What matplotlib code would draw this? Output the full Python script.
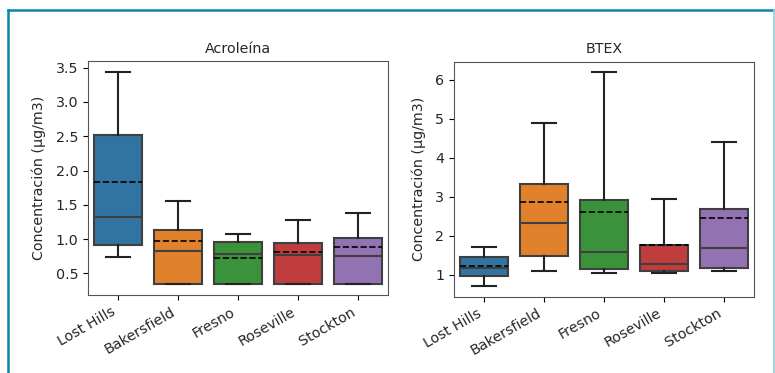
import matplotlib.pyplot as plt
from matplotlib.lines import Line2D

sites = ['Lost Hills', 'Bakersfield', 'Fresno', 'Roseville', 'Stockton']
colors = ['#3274a1', '#e1812c', '#3a923a', '#c03d3e', '#9372b2']

# Acroleína: lower whisker, Q1, median, Q3, upper whisker, mean
acro_low = [0.74, 0.34, 0.34, 0.34, 0.34]
acro_q1 = [0.92, 0.34, 0.34, 0.34, 0.34]
acro_med = [1.33, 0.82, 0.78, 0.77, 0.76]
acro_q3 = [2.52, 1.13, 0.96, 0.95, 1.01]
acro_high = [3.44, 1.56, 1.08, 1.28, 1.38]
acro_mean = [1.83, 0.98, 0.72, 0.81, 0.89]

# BTEX
btex_low = [0.71, 1.08, 1.04, 1.04, 1.08]
btex_q1 = [0.96, 1.48, 1.13, 1.10, 1.16]
btex_med = [1.18, 2.32, 1.59, 1.28, 1.67]
btex_q3 = [1.45, 3.33, 2.92, 1.75, 2.68]
btex_high = [1.70, 4.89, 6.19, 2.95, 4.40]
btex_mean = [1.22, 2.86, 2.61, 1.77, 2.44]

edge = '#3f3f3f'


def make_stats(low, q1, med, q3, high, mean):
    return [dict(whislo=a, q1=b, med=c, q3=d, whishi=e, mean=f, fliers=[], label=s)
            for a, b, c, d, e, f, s in zip(low, q1, med, q3, high, mean, sites)]


def draw(ax, stats, title, pad):
    bp = ax.bxp(stats, widths=0.8, patch_artist=True, showmeans=True, meanline=True,
                showfliers=False,
                boxprops=dict(edgecolor=edge, linewidth=1.5),
                medianprops=dict(color=edge, linewidth=1.5),
                whiskerprops=dict(color='#222222', linewidth=1.5),
                capprops=dict(color='#222222', linewidth=1.5),
                meanprops=dict(color='black', linestyle='--', linewidth=1.2))
    for patch, c in zip(bp['boxes'], colors):
        patch.set_facecolor(c)
    ax.set_title(title, fontsize=10.3, color='#262626')
    ax.set_ylabel('Concentración (µg/m3)', fontsize=10.3, color='#262626', labelpad=pad)
    ax.set_xticks(range(1, len(sites) + 1))
    ax.set_xticklabels(sites, rotation=30, ha='right', fontsize=10.3, color='#262626')
    ax.tick_params(axis='y', labelsize=10.3, labelcolor='#262626')
    for sp in ax.spines.values():
        sp.set_color('#555555')


fig = plt.figure(figsize=(7.75, 3.73), dpi=100)
ax1 = fig.add_axes([0.1135, 0.209, 0.387, 0.627])
ax2 = fig.add_axes([0.5858, 0.205, 0.387, 0.630])

draw(ax1, make_stats(acro_low, acro_q1, acro_med, acro_q3, acro_high, acro_mean), 'Acroleína', 7)
draw(ax2, make_stats(btex_low, btex_q1, btex_med, btex_q3, btex_high, btex_mean), 'BTEX', 6.5)
ax1.set_yticks([0.5, 1.0, 1.5, 2.0, 2.5, 3.0, 3.5])

# teal frame around the figure
W, H = 775, 373
fig.add_artist(Line2D([8 / W, 8 / W], [0, 1 - 10 / H], color='#0a86a8', lw=1.8))
fig.add_artist(Line2D([8 / W, 1], [1 - 10 / H, 1 - 10 / H], color='#0a86a8', lw=1.8))
fig.add_artist(Line2D([773.5 / W, 773.5 / W], [0, 1 - 10 / H], color='#8fd0dc', lw=1.2))

fig.savefig('out.png', dpi=100)
